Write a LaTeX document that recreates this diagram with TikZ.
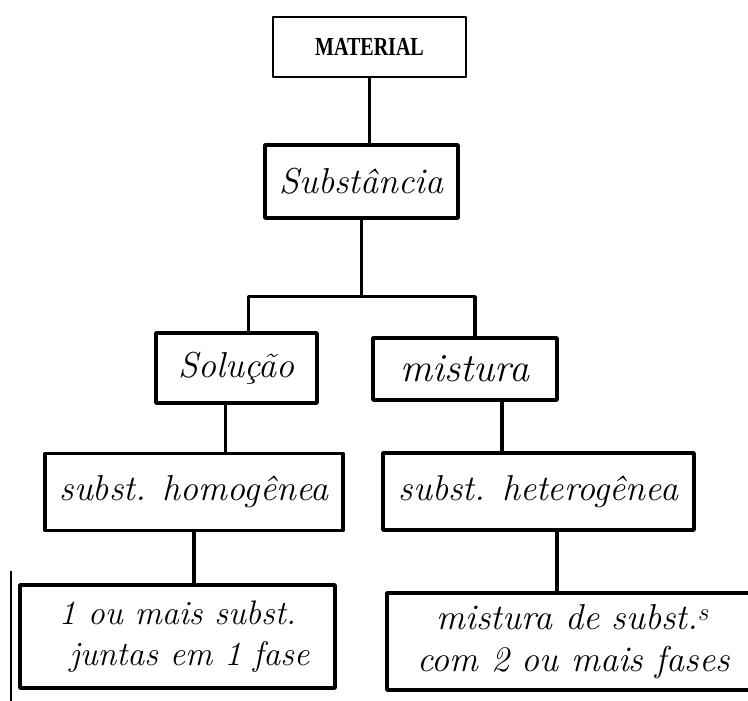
\documentclass[tikz,border=0pt]{standalone}
\usepackage{fontspec}
\newfontfamily\printfont[FakeStretch=0.77]{Liberation Serif}
\usetikzlibrary{positioning}

\begin{document}
\begin{tikzpicture}[x=1pt,y=-1pt,line join=round,
    every node/.style={inner sep=0pt}]
  \tikzstyle{printed}=[draw,line width=2pt,
    font=\printfont\bfseries\fontsize{26}{28}\selectfont]
  \tikzstyle{handbox}=[draw,line width=3.4pt,align=center,
    font=\itshape\fontsize{36}{40}\selectfont]
  \tikzstyle{link}=[line width=3.4pt]
  \useasboundingbox (0,0) rectangle (748,701);
  \clip (0,0) rectangle (748,701);

  % Boxes
  \node[printed, minimum width=193pt, minimum height=60pt] (mat) at (369.5,47) {MATERIAL};
  \node[handbox, minimum width=193pt, minimum height=73pt] (sub) at (361.5,181.5) {Substância};
  \node[handbox, minimum width=161pt, minimum height=70pt] (sol) at (236.5,368) {Solução};
  \node[handbox, minimum width=184pt, minimum height=62pt,
        font=\itshape\fontsize{40}{44}\selectfont] (mis) at (465,369) {mistura};
  \node[handbox, minimum width=298pt, minimum height=77pt] (hom) at (194,492) {subst. homogênea};
  \node[handbox, minimum width=311pt, minimum height=77pt] (het) at (538.5,491.5) {subst. heterogênea};
  \node[handbox, minimum width=315pt, minimum height=103pt,
        font=\itshape\fontsize{34}{41}\selectfont] (um) at (177.5,636.5)
        {1 ou mais subst.\\ \hspace*{24pt}juntas em 1 fase};
  \node[handbox, minimum width=373pt, minimum height=97pt,
        font=\itshape\fontsize{36}{42}\selectfont] (dois) at (573.5,641.5)
        {mistura de subst.$^{s}$\\ com 2 ou mais fases};
  \draw[line width=2pt] ([xshift=-7pt,yshift=12pt]um.north west)
        -- ([xshift=-7pt,yshift=-13pt]um.south west);

  % Links
  \draw[link] (mat.south) -- (mat.south |- sub.north);
  \draw[link] (sub.south) -- ++(0,77) coordinate (split);
  \draw[link] ([xshift=12pt]sol.north) |- (split)
        -| ([xshift=10pt]mis.north);
  \draw[link] ([xshift=-11pt]sol.south)
        -- ([xshift=-11pt]sol.south |- hom.north);
  \draw[link] ([xshift=37pt]mis.south)
        -- ([xshift=37pt]mis.south |- het.north);
  \draw[link] (hom.south) -- (hom.south |- um.north);
  \draw[link] ([xshift=18.5pt]het.south)
        -- ([xshift=18.5pt]het.south |- dois.north);
\end{tikzpicture}
\end{document}
